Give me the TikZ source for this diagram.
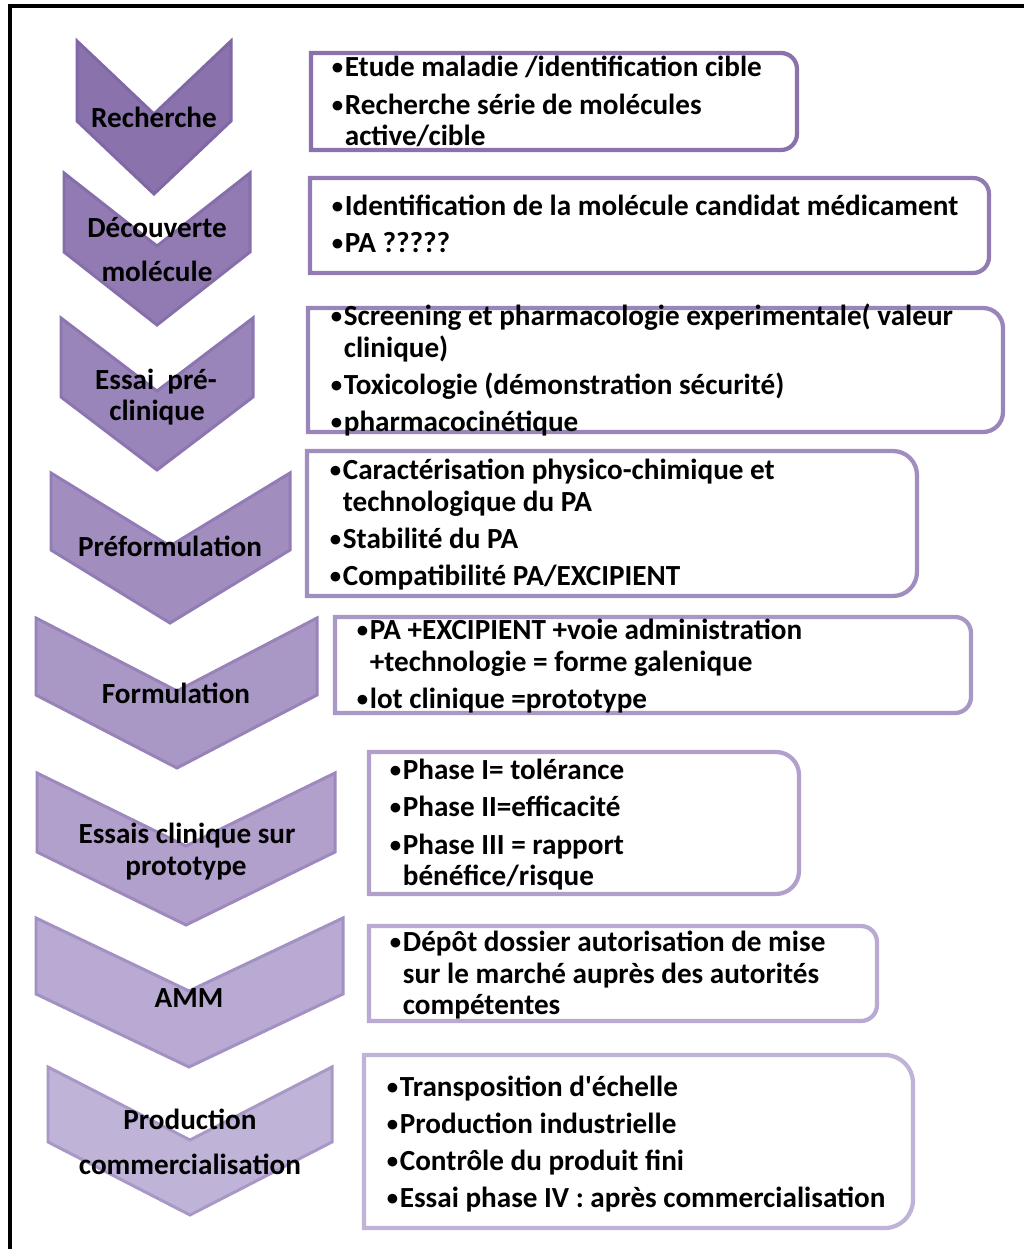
\documentclass[tikz,border=0pt]{standalone}
\usepackage{fontspec}
\usepackage{graphicx}
\setmainfont{Carlito}[Ligatures=TeXOff]
\newcommand{\dotpt}{\rlap{\hspace{0.05em}\raisebox{0.075em}{\scalebox{0.78}{•}}}\hphantom{•}}
\definecolor{edge}{RGB}{100,70,150}
\definecolor{p1}{RGB}{138,114,172}
\definecolor{p2}{RGB}{146,123,178}
\definecolor{p3}{RGB}{153,133,185}
\definecolor{p4}{RGB}{161,142,191}
\definecolor{p5}{RGB}{169,151,197}
\definecolor{p6}{RGB}{177,160,203}
\definecolor{p7}{RGB}{184,170,210}
\definecolor{p8}{RGB}{192,179,216}
\begin{document}
\begin{tikzpicture}[x=0.02cm, y=0.02cm,
    chev/.style={fill=#1, draw=#1!75!edge, line width=0.06cm},
    card/.style={draw=#1, fill=white, line width=0.085cm},
    lab/.style={font=\fontsize{16.6}{18.1}\selectfont\bfseries, inner sep=0, anchor=base},
    pts/.style={font=\fontsize{16.6}{18.1}\selectfont\bfseries, inner sep=0, anchor=base west, align=left}]
    \useasboundingbox (0,0) rectangle (1024,1249);
    \draw[line width=0.08cm] (1024,1243) -- (9.7,1243) -- (9.7,0);
    % chevrons
    \draw[chev=p1] (77,1208) -- (154,1135) -- (231,1208) -- (231,1128) -- (154,1055) -- (77,1128) -- cycle;
    \draw[chev=p2] (64,1076) -- (157,1003) -- (250,1076) -- (250,997) -- (157,924) -- (64,997) -- cycle;
    \draw[chev=p3] (61,931) -- (157,858) -- (253,931) -- (253,852) -- (157,779) -- (61,852) -- cycle;
    \draw[chev=p4] (51,776) -- (170,703) -- (290,776) -- (290,699) -- (170,626) -- (51,699) -- cycle;
    \draw[chev=p5] (36,631) -- (177,558) -- (317,631) -- (317,554) -- (177,481) -- (36,554) -- cycle;
    \draw[chev=p6] (37,476) -- (186,403) -- (335,476) -- (335,397) -- (186,324) -- (37,397) -- cycle;
    \draw[chev=p7] (36,331) -- (189,258) -- (343,331) -- (343,255) -- (189,182) -- (36,255) -- cycle;
    \draw[chev=p8] (48,182) -- (190,109) -- (332,182) -- (332,107) -- (190,34) -- (48,107) -- cycle;
    \node[lab] (recherche) at (154,1121) {Recherche};
    \node[lab] (decouverte) at (157,1011) {Découverte};
    \node[lab] (molecule) at (157,967) {molécule};
    \node[lab] (essai) at (156,859) {Essai\ \ pré-};
    \node[lab] (clinique) at (157,828) {clinique};
    \node[lab] (preform) at (170,692) {Préformulation};
    \node[lab] (formul) at (176,545) {Formulation};
    \node[lab] (essais) at (187,405) {Essais clinique sur};
    \node[lab] (prototype) at (186,373) {prototype};
    \node[lab] (amm) at (189,241) {AMM};
    \node[lab] (production) at (190,119) {Production};
    \node[lab] (commerc) at (190,74) {commercialisation};
    % boxes
    \draw[card=p1] (311,1196) -- (781,1196) arc[start angle=90, end angle=0, radius=16] -- (797,1115) arc[start angle=0, end angle=-90, radius=16] -- (311,1099) -- cycle;
    \draw[card=p2] (310,1071) -- (973,1071) arc[start angle=90, end angle=0, radius=16] -- (989,992) arc[start angle=0, end angle=-90, radius=16] -- (310,976) -- cycle;
    \draw[card=p3] (308,941) -- (983,941) arc[start angle=90, end angle=0, radius=20] -- (1003,837) arc[start angle=0, end angle=-90, radius=20] -- (308,817) -- cycle;
    \draw[card=p4] (307,798) -- (893,798) arc[start angle=90, end angle=0, radius=24] -- (917,677) arc[start angle=0, end angle=-90, radius=24] -- (307,653) -- cycle;
    \draw[card=p5] (335,632) -- (955,632) arc[start angle=90, end angle=0, radius=16] -- (971,552) arc[start angle=0, end angle=-90, radius=16] -- (335,536) -- cycle;
    \draw[card=p6] (369,497) -- (776,497) arc[start angle=90, end angle=0, radius=23] -- (799,378) arc[start angle=0, end angle=-90, radius=23] -- (369,355) -- cycle;
    \draw[card=p7] (369,323) -- (861,323) arc[start angle=90, end angle=0, radius=16] -- (877,244) arc[start angle=0, end angle=-90, radius=16] -- (369,228) -- cycle;
    \draw[card=p8] (364,194) -- (885,194) arc[start angle=90, end angle=0, radius=28] -- (913,49) arc[start angle=0, end angle=-90, radius=28] -- (364,21) -- cycle;
    % texts, placed by their last line
    \node[pts] (recherche-pts) at (330,1103) {\dotpt Etude maladie /identification cible\\[3.1pt]
        \dotpt Recherche série de molécules\\ \hphantom{•}active/cible};
    \node[pts] (decouverte-pts) at (330,996) {\dotpt Identification de la molécule candidat médicament\\[3.1pt] \dotpt PA ?????};
    \node[pts] (essai-pts) at (329,817) {\dotpt Screening et pharmacologie experimentale( valeur\\ \hphantom{•}clinique)\\[3.1pt]
        \dotpt Toxicologie (démonstration sécurité)\\[3.1pt] \dotpt pharmacocinétique};
    \node[pts] (preform-pts) at (328,663) {\dotpt Caractérisation physico-chimique et\\ \hphantom{•}technologique du PA\\[3.1pt]
        \dotpt Stabilité du PA\\[3.1pt] \dotpt Compatibilité PA/EXCIPIENT};
    \node[pts] (formul-pts) at (355,540) {\dotpt PA +EXCIPIENT +voie administration\\ \hphantom{•}+technologie = forme galenique\\[3.1pt]
        \dotpt lot clinique =prototype};
    \node[pts] (essais-pts) at (388,363) {\dotpt Phase I= tolérance\\[3.1pt] \dotpt Phase II=efficacité\\[3.1pt]
        \dotpt Phase III = rapport\\ \hphantom{•}bénéfice/risque};
    \node[pts] (amm-pts) at (388,234) {\dotpt Dépôt dossier autorisation de mise\\ \hphantom{•}sur le marché auprès des autorités\\
        \hphantom{•}compétentes};
    \node[pts] (production-pts) at (385,41) {\dotpt Transposition d'échelle\\[3.1pt] \dotpt Production industrielle\\[3.1pt]
        \dotpt Contrôle du produit fini\\[3.1pt] \dotpt Essai phase IV : après commercialisation};
\end{tikzpicture}
\end{document}
